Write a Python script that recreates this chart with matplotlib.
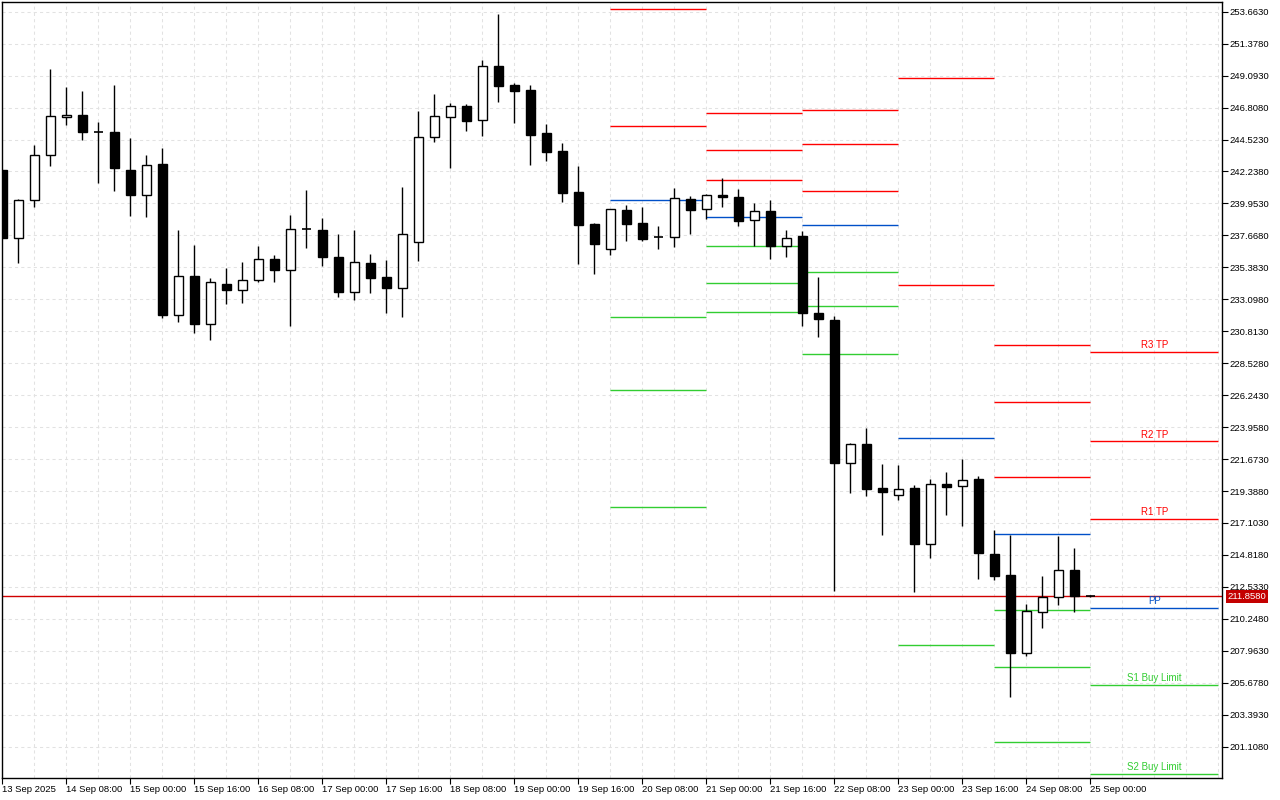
import matplotlib
matplotlib.use('Agg')
import numpy as np
import matplotlib.pyplot as plt

plt.rcParams['font.family'] = ['Liberation Sans', 'DejaVu Sans']

# H4 bars, first bar = 13 Sep 2025 16:00
opens = [242.34, 237.46, 240.18, 243.39, 246.11, 246.25, 245.06, 245.04, 242.34, 240.54,
         242.77, 231.95, 234.74, 231.31, 234.17, 233.74, 234.46, 235.96, 235.17, 238.10,
         238.03, 236.12, 233.64, 235.69, 234.69, 233.93, 237.17, 244.68, 246.11, 246.90,
         245.90, 249.76, 248.42, 248.06, 244.99, 243.70, 240.77, 238.48, 236.67, 239.48,
         238.55, 237.53, 237.53, 240.25, 239.53, 240.53, 240.39, 238.75, 239.39, 236.89,
         237.60, 232.10, 231.60, 221.37, 222.73, 219.58, 219.08, 219.58, 215.62, 219.87,
         219.72, 220.23, 214.86, 213.38, 207.83, 210.72, 211.79, 213.72, 211.86]
highs = [242.34, 240.25, 244.13, 249.57, 248.28, 247.99, 245.75, 248.42, 244.61, 243.42,
         243.92, 238.05, 236.98, 234.60, 235.31, 235.74, 236.89, 236.24, 239.15, 240.89,
         238.89, 237.75, 238.05, 236.34, 235.91, 241.13, 246.56, 247.78, 247.14, 247.04,
         250.21, 253.50, 248.56, 248.42, 245.63, 244.27, 242.65, 238.57, 239.55, 239.86,
         239.70, 238.32, 241.03, 240.46, 240.60, 241.77, 240.96, 239.96, 240.18, 238.03,
         237.96, 234.67, 231.90, 222.80, 223.89, 221.32, 221.25, 219.82, 220.23, 220.73,
         221.66, 220.44, 216.58, 216.27, 211.31, 213.31, 216.19, 215.31, 211.95]
lows = [237.46, 235.71, 239.72, 242.65, 245.58, 244.51, 241.43, 240.86, 239.08, 239.00,
        231.78, 231.50, 230.67, 230.19, 232.74, 232.81, 234.31, 234.31, 231.17, 236.74,
        235.50, 233.28, 233.07, 233.55, 232.14, 231.85, 235.84, 244.37, 242.51, 245.15,
        244.80, 247.23, 245.70, 242.72, 243.01, 240.08, 235.64, 234.93, 236.29, 237.24,
        237.29, 236.72, 236.86, 237.79, 238.82, 239.72, 238.36, 236.89, 235.96, 236.10,
        231.17, 230.38, 212.26, 219.23, 219.05, 216.27, 218.77, 212.19, 214.58, 217.70,
        216.91, 213.12, 213.05, 204.68, 207.61, 209.61, 211.26, 210.72, 211.80]
closes = [237.46, 240.18, 243.39, 246.18, 246.25, 245.08, 245.06, 242.51, 240.58, 242.68,
          232.00, 234.74, 231.31, 234.31, 233.74, 234.46, 235.96, 235.17, 238.10, 238.10,
          236.10, 233.64, 235.74, 234.64, 233.93, 237.75, 244.70, 246.18, 246.90, 245.87,
          249.76, 248.37, 248.01, 244.87, 243.65, 240.72, 238.43, 237.07, 239.53, 238.50,
          237.43, 237.53, 240.32, 239.50, 240.53, 240.39, 238.72, 239.39, 236.89, 237.46,
          232.10, 231.67, 221.37, 222.73, 219.56, 219.30, 219.56, 215.62, 219.87, 219.70,
          220.20, 214.98, 213.33, 207.83, 210.81, 211.79, 213.72, 211.88, 211.86]

xtick_pos = list(range(0, 69, 4))
xtick_labels = ['13 Sep 2025', '14 Sep 08:00', '15 Sep 00:00', '15 Sep 16:00', '16 Sep 08:00',
                '17 Sep 00:00', '17 Sep 16:00', '18 Sep 08:00', '19 Sep 00:00', '19 Sep 16:00',
                '20 Sep 08:00', '21 Sep 00:00', '21 Sep 16:00', '22 Sep 08:00', '23 Sep 00:00',
                '23 Sep 16:00', '24 Sep 08:00', '25 Sep 00:00']
ytick_vals = [201.108, 203.393, 205.678, 207.963, 210.248, 212.533, 214.818, 217.103,
              219.388, 221.673, 223.958, 226.243, 228.528, 230.813, 233.098, 235.383,
              237.668, 239.953, 242.238, 244.523, 246.808, 249.093, 251.378, 253.663]

# daily pivot levels (20 Sep .. 25 Sep), nan = off screen
piv_start = [38, 44, 50, 56, 62, 68]
piv_end = [44, 50, 56, 62, 68, 76]
R3 = [np.nan, 246.40, 246.61, np.nan, 229.84, 229.32]
R2 = [253.83, 243.75, 244.18, 248.90, 225.75, 222.95]
R1 = [245.47, 241.61, 240.82, 234.10, 220.37, 217.42]
PP = [240.18, 238.96, 238.39, 223.16, 216.28, 211.05]
S1 = [231.81, 236.89, 235.03, 208.38, 210.90, 205.52]
S2 = [226.61, 234.24, 232.60, np.nan, 206.81, 199.15]
S3 = [218.25, 232.17, 229.17, np.nan, 201.43, np.nan]

last_price = 211.858

RED = '#ff0000'
BLUE = '#0050c8'
GREEN = '#32cd32'

fig = plt.figure(figsize=(12.8, 8), dpi=100)
ax = fig.add_axes([2.3 / 1280, 1 - 778.3 / 800, 1220 / 1280, 776 / 800])
ax.set_xlim(-0.0125, 76.24)
ax.set_ylim(198.847, 254.335)

# grid
for gx in range(0, 77, 2):
    ax.axvline(gx, color='#e2e2e2', lw=0.75, ls=(0, (3, 3)), zorder=0)
for gy in ytick_vals:
    ax.axhline(gy, color='#e2e2e2', lw=0.75, ls=(0, (3, 3)), zorder=0)

# pivot lines
for lv, col in [(R3, RED), (R2, RED), (R1, RED), (PP, BLUE), (S1, GREEN), (S2, GREEN), (S3, GREEN)]:
    for s, e, v in zip(piv_start, piv_end, lv):
        if not np.isnan(v):
            ax.hlines(v, s, e, color=col, lw=1.0, zorder=1)

lab = [('R3 TP', R3[-1], RED), ('R2 TP', R2[-1], RED), ('R1 TP', R1[-1], RED),
       ('PP', PP[-1], BLUE), ('S1 Buy Limit', S1[-1], GREEN), ('S2 Buy Limit', S2[-1], GREEN)]
for t, v, c in lab:
    ax.text(72, v + 0.12, t, color=c, fontsize=7, ha='center', va='bottom', zorder=4)

# current price
ax.axhline(last_price, color='#d00000', lw=1.0, zorder=1.5)

# candles
x = np.arange(len(opens))
ax.vlines(x, lows, highs, color='black', lw=1.0, zorder=2)
w = 0.62
for i in range(len(opens)):
    o, c = opens[i], closes[i]
    if abs(c - o) < 0.05:
        ax.hlines(o, i - w / 2, i + w / 2, color='black', lw=1.2, zorder=3)
        continue
    fc = 'white' if c > o else 'black'
    ax.add_patch(plt.Rectangle((i - w / 2, min(o, c)), w, abs(c - o),
                               facecolor=fc, edgecolor='black', lw=1.0, zorder=3))

# axes styling
for sp in ax.spines.values():
    sp.set_color('black')
    sp.set_linewidth(1.0)
ax.yaxis.tick_right()
ax.set_yticks(ytick_vals)
ax.set_yticklabels(['%.4f' % v for v in ytick_vals])
ax.set_xticks(xtick_pos)
ax.set_xticklabels(xtick_labels, ha='left')
ax.tick_params(axis='both', direction='out', length=4, width=0.8, labelsize=6.8, colors='black')
ax.tick_params(axis='x', pad=1)
ax.tick_params(axis='y', pad=1.5)

ax.text(1.0045, last_price, '%.4f' % last_price, transform=ax.get_yaxis_transform(),
        color='white', fontsize=6.8, ha='left', va='center', zorder=5, clip_on=False,
        bbox=dict(boxstyle='square,pad=0.2', facecolor='#c40000', edgecolor='none'))

fig.savefig('out.png', dpi=100)
